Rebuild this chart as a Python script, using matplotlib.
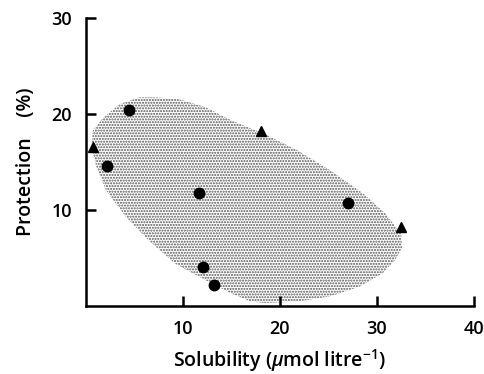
import matplotlib
matplotlib.use("Agg")
import matplotlib.pyplot as plt

# data
circle_x = [4.4, 2.2, 11.7, 27.0, 12.1, 13.2]
circle_y = [20.4, 14.6, 11.8, 10.7, 4.0, 2.2]
tri_x = [0.7, 18.1, 32.5]
tri_y = [16.5, 18.2, 8.2]

# outline of the shaded area
region_x = [5.5, 7.2, 9.6, 12.3, 15.0, 18.4, 21.8, 25.2, 28.6, 30.9, 32.5, 32.6,
            31.9, 30.6, 28.2, 25.2, 21.8, 18.4, 17.0, 15.0, 12.3, 9.2, 6.5, 4.1,
            2.1, 1.1, 0.6, 0.7, 1.8, 3.5]
region_y = [21.7, 21.7, 21.5, 20.7, 19.3, 17.9, 16.2, 14.1, 11.7, 9.6, 7.5, 6.1,
            4.8, 3.4, 2.0, 1.0, 0.45, 0.3, 0.45, 1.3, 2.7, 4.4, 6.8, 9.3,
            12.0, 14.4, 16.5, 18.2, 19.6, 21.0]

xticks = [10, 20, 30, 40]
yticks = [10, 20, 30]

plt.rcParams["font.family"] = ["Open Sans", "DejaVu Sans"]
plt.rcParams["mathtext.fontset"] = "custom"
plt.rcParams["mathtext.it"] = "Open Sans:italic:semibold"
plt.rcParams["mathtext.rm"] = "Open Sans:semibold"
plt.rcParams["hatch.linewidth"] = 1.0

fig = plt.figure(figsize=(4.85, 3.74), dpi=100)
ax = fig.add_axes([0.177, 0.182, 0.8, 0.771])

ax.fill(region_x, region_y, facecolor="white", edgecolor="#555555",
        hatch="......", linewidth=0)
ax.plot(circle_x, circle_y, "o", color="black", markersize=7.5)
ax.plot(tri_x, tri_y, "^", color="black", markersize=7.5)

ax.set_xlim(0, 40)
ax.set_ylim(0, 30)
ax.set_xticks(xticks)
ax.set_yticks(yticks)
ax.spines["top"].set_visible(False)
ax.spines["right"].set_visible(False)
ax.spines["left"].set_linewidth(1.8)
ax.spines["bottom"].set_linewidth(1.8)
ax.tick_params(direction="in", length=7, width=1.8, labelsize=13, pad=10)
for lab in ax.get_xticklabels() + ax.get_yticklabels():
    lab.set_fontweight("semibold")

ax.set_xlabel("Solubility ($\\mu$mol litre$^{-1}$)", fontsize=14,
              fontweight="semibold", labelpad=7)
ax.set_ylabel("Protection    (%)", fontsize=14, fontweight="semibold",
              labelpad=11)

fig.savefig("out.png", dpi=100)
